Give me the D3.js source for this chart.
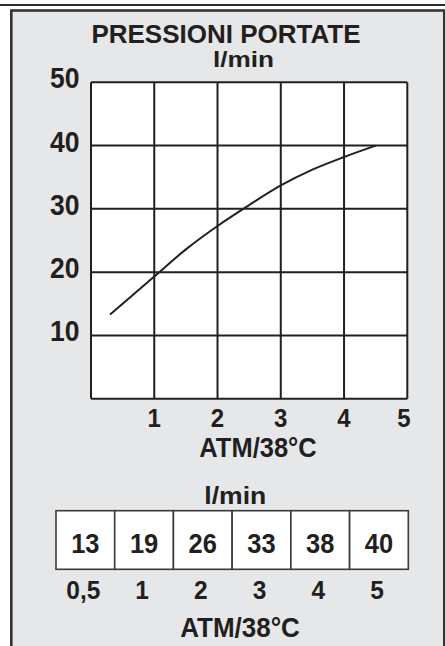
<!DOCTYPE html>
<html>
<head>
<meta charset="utf-8">
<script src="https://cdn.jsdelivr.net/npm/d3@7"></script>
<style>
  html, body { margin: 0; padding: 0; background: #ffffff; }
  svg { display: block; }
  text { font-family: "Liberation Sans", Arial, Helvetica, sans-serif; font-weight: bold; fill: #231f20; }
</style>
</head>
<body>
<script>
// ---- data ----
const title = "PRESSIONI PORTATE";
const yUnit = "l/min";
const xUnit = "ATM/38°C";
const xTicks = [1, 2, 3, 4, 5];
const yTicks = [10, 20, 30, 40, 50];
// curve (pressure ATM, flow l/min)
const curvePressure = [0.3, 1, 1.5, 2, 2.5, 3, 3.5, 4, 4.5];
const curveFlow = [13.3, 19.3, 23.6, 27.3, 30.6, 33.7, 36.2, 38.2, 40];
// table
const tableFlow = [13, 19, 26, 33, 38, 40];
const tablePressure = ["0,5", "1", "2", "3", "4", "5"];

const W = 445, H = 646;
const ink = "#231f20";
const svg = d3.select("body").append("svg").attr("width", W).attr("height", H);

// helper: text slightly stretched vertically like the reference lettering
function label(sel, sx, sy, k) {
  const s = k === undefined ? 1.08 : k;
  return sel.attr("transform", function (d, i) {
    const px = typeof sx === "function" ? sx(d, i) : sx;
    const py = typeof sy === "function" ? sy(d, i) : sy;
    return `translate(${px},${py}) scale(1,${s})`;
  });
}

// top rule and panel
svg.append("line").attr("x1", 0).attr("x2", W).attr("y1", 5).attr("y2", 5)
  .attr("stroke", "#2b2b2b").attr("stroke-width", 2.2);
svg.append("rect").attr("x", 11.3).attr("y", 10.5).attr("width", 433).attr("height", 660)
  .attr("fill", "#e6e7e8").attr("stroke", "#333333").attr("stroke-width", 2.6);

// scales
const x = d3.scaleLinear().domain([0, 5]).range([91, 407.3]);
const y = d3.scaleLinear().domain([0, 50]).range([398.7, 82.3]);

// plot background
svg.append("rect").attr("x", x(0)).attr("y", y(50))
  .attr("width", x(5) - x(0)).attr("height", y(0) - y(50)).attr("fill", "#ffffff");

// grid
const g = svg.append("g");
g.selectAll("line.v").data(d3.range(0, 6)).join("line")
  .attr("x1", d => x(d)).attr("x2", d => x(d)).attr("y1", y(0)).attr("y2", y(50))
  .attr("stroke", ink).attr("stroke-width", 2);
g.selectAll("line.h").data(d3.range(0, 60, 10)).join("line")
  .attr("y1", d => y(d)).attr("y2", d => y(d)).attr("x1", x(0)).attr("x2", x(5))
  .attr("stroke", ink).attr("stroke-width", 2);

// curve
const pts = curvePressure.map((p, i) => [p, curveFlow[i]]);
svg.append("path").datum(pts)
  .attr("d", d3.line().x(d => x(d[0])).y(d => y(d[1])).curve(d3.curveMonotoneX))
  .attr("fill", "none").attr("stroke", ink).attr("stroke-width", 2);

// y tick labels
label(svg.selectAll("text.yt").data(yTicks).join("text"), 79.5, d => y(d) + 6)
  .attr("text-anchor", "end").attr("font-size", 26.5).text(d => d);

// x tick labels
label(svg.selectAll("text.xt").data(xTicks).join("text"), d => x(d) - (d === 5 ? 3.5 : 0), 426.7)
  .attr("text-anchor", "middle").attr("font-size", 24).text(d => d);

// titles
label(svg.append("text"), 226, 42.7, 1).attr("text-anchor", "middle")
  .attr("font-size", 26).text(title);
label(svg.append("text"), 243.5, 67, 1).attr("text-anchor", "middle")
  .attr("font-size", 22).attr("textLength", 61).attr("lengthAdjust", "spacingAndGlyphs").text(yUnit);
label(svg.append("text"), 258, 456.7).attr("text-anchor", "middle")
  .attr("font-size", 25.5).text(xUnit);

// table
const tb = d3.scaleBand().domain(d3.range(tableFlow.length)).range([56, 408.3]).padding(0);
const tTop = 510.7, tBot = 569.3;
label(svg.append("text"), 235.3, 504, 1).attr("text-anchor", "middle")
  .attr("font-size", 24).attr("textLength", 62).attr("lengthAdjust", "spacingAndGlyphs").text(yUnit);
svg.selectAll("rect.cell").data(tableFlow).join("rect")
  .attr("x", (d, i) => tb(i)).attr("y", tTop).attr("width", tb.bandwidth()).attr("height", tBot - tTop)
  .attr("fill", "#ffffff").attr("stroke", "#3a3a3a").attr("stroke-width", 1.6);
label(svg.selectAll("text.tv").data(tableFlow).join("text"), (d, i) => tb(i) + tb.bandwidth() / 2, 552.5)
  .attr("text-anchor", "middle").attr("font-size", 25.5).text(d => d);
label(svg.selectAll("text.tp").data(tablePressure).join("text"), (d, i) => tb(i) + tb.bandwidth() / 2 - 2, 599.3)
  .attr("text-anchor", "middle").attr("font-size", 24.5).text(d => d);
label(svg.append("text"), 240, 636.7).attr("text-anchor", "middle")
  .attr("font-size", 26).text(xUnit);
</script>
</body>
</html>
